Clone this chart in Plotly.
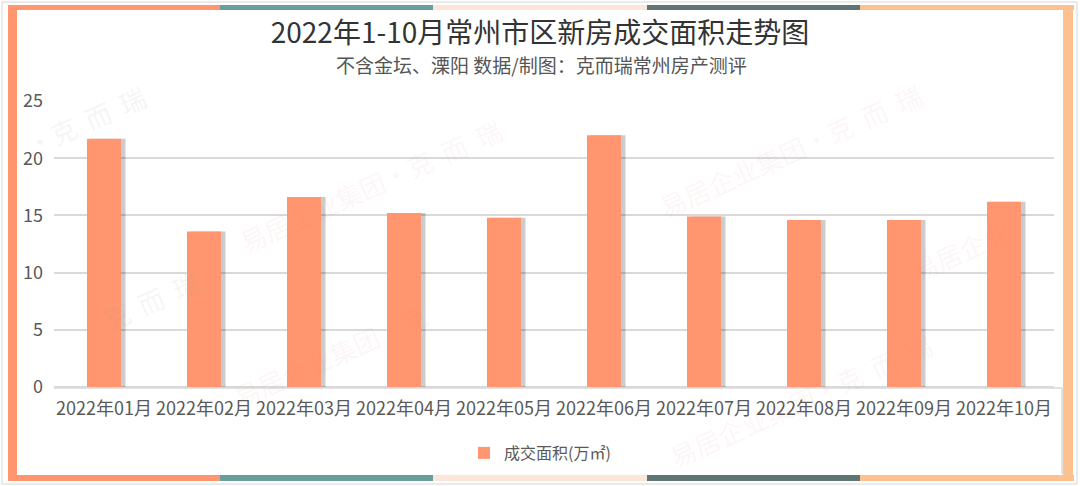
import plotly.graph_objects as go

months = ["2022年01月", "2022年02月", "2022年03月", "2022年04月", "2022年05月",
          "2022年06月", "2022年07月", "2022年08月", "2022年09月", "2022年10月"]
area = [21.7, 13.6, 16.6, 15.2, 14.8, 22.0, 14.9, 14.6, 14.6, 16.2]
series_name = "成交面积(万㎡)"
title_text = "2022年1-10月常州市区新房成交面积走势图"
subtitle_text = "不含金坛、溧阳 数据/制图：克而瑞常州房产测评"
y_ticks = [0, 5, 10, 15, 20, 25]

W, H = 1080, 486
L, R, T, B = 54, 26, 101, 99
PW, PH = W - L - R, H - T - B
FONT = "Noto Sans CJK SC, Noto Sans, sans-serif"


def px(x):
    return (x - L) / PW


def py(y):
    return (H - B - y) / PH


fig = go.Figure()

# soft shadow behind each bar
fig.add_trace(go.Bar(
    x=months, y=area, width=0.34, offset=-0.125,
    marker=dict(color="rgba(0,0,0,0.20)", line=dict(width=0)),
    showlegend=False, hoverinfo="skip",
))
fig.add_trace(go.Bar(
    x=months, y=area, name=series_name, width=0.34, offset=-0.17,
    marker=dict(color="#FF9670", line=dict(width=0)),
))

shapes = []


def rect(x0, y0, x1, y1, fill=None, line=None, lw=0):
    shapes.append(dict(
        type="rect", xref="paper", yref="paper", layer="below",
        x0=px(x0), x1=px(x1), y0=py(y1), y1=py(y0),
        fillcolor=fill if fill else "rgba(0,0,0,0)",
        line=dict(color=line if line else "rgba(0,0,0,0)", width=lw),
    ))


# outer light border
rect(2, 2, 1077, 484, line="#d6d6d6", lw=1)
# coloured frame
seg = [(8, 220, "#FF9670"), (220, 433, "#689E9B"), (433, 647, "#FDE6D8"),
       (647, 860, "#607573"), (860, 1074, "#FDC18F")]
for x0, x1, c in seg:
    rect(x0, 5, x1, 10, fill=c)
    rect(x0, 475, x1, 481, fill=c)
rect(8, 5, 17, 481, fill="#FF9670")
rect(1063, 5, 1073, 481, fill="#FDC18F")
# lower inner box border
shapes.append(dict(type="line", xref="paper", yref="paper", x0=px(54), x1=px(1062),
                   y0=py(388), y1=py(388), line=dict(color="#d9d9d9", width=1.5), layer="below"))
shapes.append(dict(type="line", xref="paper", yref="paper", x0=px(1062), x1=px(1062),
                   y0=py(388), y1=py(474), line=dict(color="#d9d9d9", width=1.5), layer="below"))

annotations = [
    dict(text=subtitle_text, xref="paper", yref="paper", x=px(541), y=py(64),
         xanchor="center", yanchor="middle", showarrow=False,
         font=dict(family=FONT, size=19, color="#555555")),
]

# faint watermarks
wm = [
    ("·克  而  瑞", 85, 120, "rgba(150,150,150,0.11)"),
    ("易居企业集团·克  而  瑞", 370, 185, "rgba(225,120,120,0.08)"),
    ("易居企业集团·克  而  瑞", 790, 150, "rgba(225,120,120,0.08)"),
    ("易居企业", 960, 250, "rgba(225,120,120,0.08)"),
    ("易居企业集团·克", 330, 355, "rgba(225,120,120,0.08)"),
    ("克  而  瑞", 150, 300, "rgba(150,150,150,0.10)"),
    ("易居企业集团·克  而  瑞", 800, 400, "rgba(225,120,120,0.08)"),
]
for t, x, y, c in wm:
    annotations.append(dict(text=t, xref="paper", yref="paper", x=px(x), y=py(y),
                            xanchor="center", yanchor="middle", showarrow=False,
                            textangle=-24, font=dict(family=FONT, size=26, color=c)))

fig.update_layout(
    width=W, height=H,
    margin=dict(l=L, r=R, t=T, b=B, pad=0),
    paper_bgcolor="white", plot_bgcolor="white",
    barmode="overlay",
    title=dict(text=title_text, x=0.5, xanchor="center", y=1 - 33 / H, yanchor="middle",
               font=dict(family=FONT, size=28, color="#333333")),
    font=dict(family=FONT, color="#595959"),
    xaxis=dict(type="category", categoryorder="array", categoryarray=months,
               tickangle=0, tickfont=dict(size=18, color="#595959"),
               showline=False, ticks="", showgrid=False, zeroline=False,
               ticklabelstandoff=9),
    yaxis=dict(range=[0, 25], tickvals=y_ticks, tickfont=dict(size=18, color="#595959"),
               showgrid=True, gridcolor="#d9d9d9", gridwidth=1.5,
               zeroline=True, zerolinecolor="#d9d9d9", zerolinewidth=1.5,
               showline=False, ticks="", ticklabelstandoff=10),
    legend=dict(orientation="h", x=px(540), y=py(453), xanchor="center", yanchor="middle",
                font=dict(size=16, color="#595959"), bgcolor="rgba(0,0,0,0)"),
    shapes=shapes,
    annotations=annotations,
)

fig.write_html("out.html",
               config={"displayModeBar": False},
               post_script="document.body.style.margin='0';document.body.style.overflow='hidden';")
